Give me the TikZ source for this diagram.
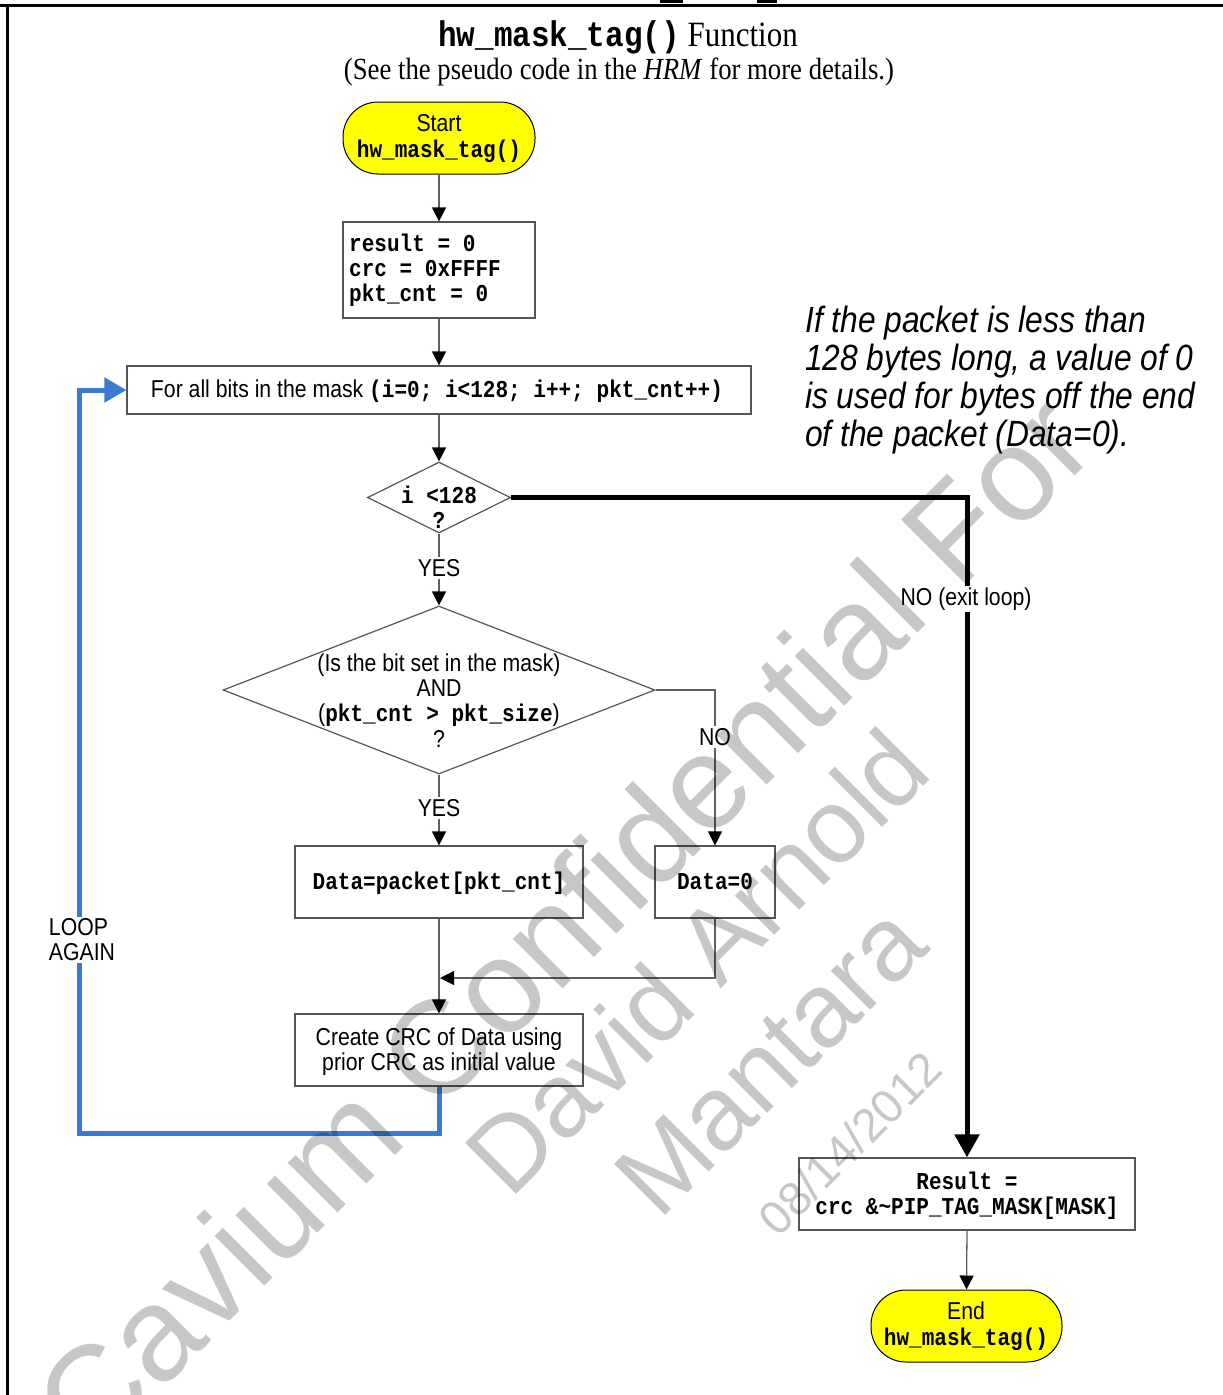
\documentclass[tikz,border=0pt]{standalone}
\usepackage{fontspec}
\setmainfont[FakeStretch=0.87]{Liberation Sans}
\newfontfamily\monofont[FakeStretch=0.87]{Liberation Mono}
\newfontfamily\seriffont[FakeStretch=0.87]{Liberation Serif}
\newfontfamily\wmfont{Liberation Sans}
\usetikzlibrary{shapes.geometric,arrows.meta}
\definecolor{loopblue}{RGB}{58,122,212}
\definecolor{termyellow}{RGB}{255,255,0}
\definecolor{edgegray}{RGB}{95,95,95}
\definecolor{boxgray}{RGB}{85,85,85}
\newcommand\sanssize{\fontsize{24.4}{25}\selectfont}
\newcommand\mcode[1]{{\monofont\bfseries\fontsize{24.2}{25}\selectfont #1}}

\begin{document}
\begin{tikzpicture}[x=1pt,y=-1pt,
  box/.style={draw=boxgray,line width=1.2pt,fill=white,inner sep=0pt},
  term/.style={draw=black,line width=1pt,fill=termyellow,rounded corners=35pt,inner sep=0pt,minimum height=72pt},
  decide/.style={draw=boxgray,line width=1.2pt,fill=white,diamond,inner sep=0pt},
  txt/.style={inner sep=0pt,font=\sanssize,anchor=base},
  lbl/.style={fill=white,inner sep=2pt,font=\sanssize},
  flow/.style={draw=edgegray,line width=1.3pt,-{Triangle[length=14pt,width=14pt,color=black]}},
  exitline/.style={draw=black,line width=5pt,-{Triangle[length=23pt,width=24pt]}},
  loopline/.style={draw=loopblue,line width=5pt,-{Triangle[length=22pt,width=24pt]}},
  note/.style={inner sep=0pt,anchor=base west,font=\fontsize{36.5}{38}\selectfont\itshape},
  wm/.style={inner sep=0pt,text=black,text opacity=0.22,rotate=45},
]
\useasboundingbox (0,0) rectangle (1223,1395);

% frame of the page and the clipped heading above it
\draw[line width=3pt] (0,5) -- (1223,5);
\draw[line width=2.5pt] (7.5,5) -- (7.5,1395);
\fill (660,0) rectangle (683,2.5);
\fill (757,0) rectangle (777,2.5);

% heading
\node[inner sep=0pt,anchor=base] (title) at (618,46)
  {{\monofont\bfseries\fontsize{35.6}{36}\selectfont hw\_mask\_tag()}{\seriffont\fontsize{35.6}{36}\selectfont\ Function}};
\node[inner sep=0pt,anchor=base,font=\seriffont\fontsize{30.7}{31}\selectfont] (subtitle) at (619,79)
  {(See the pseudo code in the \textit{HRM} for more details.)};

% side note
\node[note] (noteA) at (805,332) {If the packet is less than};
\node[note] (noteB) at (805,370) {128 bytes long, a value of 0};
\node[note] (noteC) at (805,408) {is used for bytes off the end};
\node[note] (noteD) at (805,446) {of the packet (Data=0).};

% flowchart shapes
\node[term,minimum width=192pt] (start) at (439,138) {};
\node[txt] (startA) at (439,131) {Start};
\node[txt] (startB) at (439,157) {\mcode{hw\_mask\_tag()}};

\node[box,minimum width=192pt,minimum height=96pt] (init) at (439,270) {};
\node[txt,anchor=base west] (initA) at (349,251) {\mcode{result = 0}};
\node[txt,anchor=base west] (initB) at (349,276) {\mcode{crc = 0xFFFF}};
\node[txt,anchor=base west] (initC) at (349,301) {\mcode{pkt\_cnt = 0}};

\node[box,minimum width=624pt,minimum height=48pt] (loop) at (439,390) {};
\node[txt] (loopT) at (437,397) {For all bits in the mask \mcode{(i=0; i<128; i++; pkt\_cnt++)}};

\node[decide,minimum width=143pt,minimum height=71pt] (dec1) at (439,497.5) {};
\node[txt] (dec1A) at (439,503) {\mcode{i <128}};
\node[txt] (dec1B) at (439,528) {\mcode{?}};

\node[decide,minimum width=432pt,minimum height=168pt] (dec2) at (439,690) {};
\node[txt] (dec2A) at (439,671) {(Is the bit set in the mask)};
\node[txt] (dec2B) at (439,696) {AND};
\node[txt] (dec2C) at (439,721) {(\mcode{pkt\_cnt > pkt\_size})};
\node[txt] (dec2D) at (439,747) {?};

\node[box,minimum width=288pt,minimum height=72pt] (pkt) at (439,882) {};
\node[txt] (pktT) at (439,889) {\mcode{Data=packet[pkt\_cnt]}};
\node[box,minimum width=120pt,minimum height=72pt] (zero) at (715,882) {};
\node[txt] (zeroT) at (715,889) {\mcode{Data=0}};

\node[box,minimum width=288pt,minimum height=72pt] (crc) at (439,1050) {};
\node[txt] (crcA) at (439,1045) {Create CRC of Data using};
\node[txt] (crcB) at (439,1070) {prior CRC as initial value};

\node[box,minimum width=336pt,minimum height=72pt] (res) at (967,1194) {};
\node[txt] (resA) at (967,1189) {\mcode{Result =}};
\node[txt] (resB) at (967,1214) {\mcode{crc \&\textasciitilde PIP\_TAG\_MASK[MASK]}};

\node[term,minimum width=191pt] (end) at (966.5,1326) {};
\node[txt] (endA) at (966,1319) {End};
\node[txt] (endB) at (966,1345) {\mcode{hw\_mask\_tag()}};

% connectors
\draw[flow] (start.south) -- (init.north);
\draw[flow] (init.south) -- (loop.north);
\draw[flow] (loop.south) -- (dec1.north);
\draw[flow] (dec1.south) -- (dec2.north);
\node[lbl] (yes1) at (439,568) {YES};
\draw[exitline] (dec1.east) -| (res.north);
\node[lbl] (noexit) at (966,599) {NO (exit loop)};
\draw[flow] (dec2.east) -| (zero.north);
\node[lbl] (no2) at (715,737) {NO};
\draw[flow] (dec2.south) -- (pkt.north);
\node[lbl] (yes2) at (439,808) {YES};
\draw[flow] (pkt.south) -- (crc.north);
\coordinate (merge) at (440,978);
\draw[flow] (zero.south) |- (merge);
\coordinate (loopLow) at (79,1133);
\draw[loopline] (crc.south) |- (loopLow) |- (loop.west);
\node[lbl,align=left] (again) at (82,940) {LOOP\\AGAIN};
\draw[flow] (res.south) -- (end.north);

% watermark
\node[wm,font=\wmfont\fontsize{133}{133}\selectfont] (wmA) at (562,922) {Cavium Confidential For};
\node[wm,font=\wmfont\fontsize{105}{105}\selectfont] (wmB) at (696,961) {David Arnold};
\node[wm,font=\wmfont\fontsize{105}{105}\selectfont] (wmC) at (770,1060) {Mantara};
\node[wm,font=\wmfont\fontsize{47}{47}\selectfont] (wmD) at (850,1143) {08/14/2012};
\end{tikzpicture}
\end{document}
